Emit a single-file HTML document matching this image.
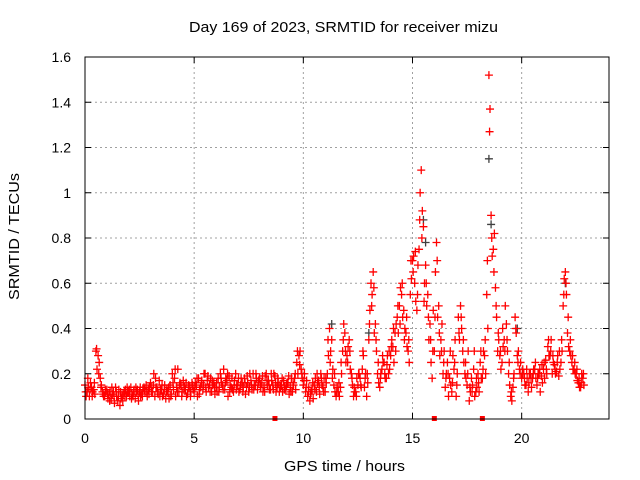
<!DOCTYPE html>
<html><head><meta charset="utf-8"><style>
body{margin:0;background:#fff}
svg{display:block;font-family:"Liberation Sans",sans-serif}
</style></head><body>
<svg id="chart" width="640" height="480">
<text x="189" y="32" font-size="15" textLength="309" lengthAdjust="spacingAndGlyphs">Day 169 of 2023, SRMTID for receiver mizu</text>
<text x="284" y="471" font-size="15" textLength="121" lengthAdjust="spacingAndGlyphs">GPS time / hours</text>
<text transform="translate(19,300) rotate(-90)" font-size="14.5" textLength="127" lengthAdjust="spacingAndGlyphs">SRMTID / TECUs</text>
<g id="grid"></g><g id="marks"></g>
<rect x="85" y="57" width="524" height="362" fill="none" stroke="#000" stroke-width="1"/>
</svg>
<script>
const xTicks=[0,5,10,15,20];
const yTicks=[0,0.2,0.4,0.6,0.8,1,1.2,1.4,1.6];
const yTickLabels=["0","0.2","0.4","0.6","0.8","1","1.2","1.4","1.6"];
const seriesA=[0.15,0.12,0.1,0.14,0.13,0.3,0.28,0.18,0.12,0.1,
0.13,0.11,0.09,0.12,0.14,0.08,0.06,0.1,0.12,0.1,
0.12,0.14,0.1,0.09,0.13,0.12,0.11,0.14,0.15,0.13,
0.16,0.12,0.1,0.14,0.17,0.13,0.11,0.09,0.12,0.15,
0.2,0.18,0.14,0.12,0.15,0.17,0.13,0.11,0.14,0.16,
0.12,0.15,0.18,0.14,0.13,0.2,0.17,0.15,0.12,0.16,
0.14,0.18,0.2,0.15,0.13,0.17,0.19,0.14,0.12,0.2,
0.15,0.13,0.16,0.18,0.14,0.12,0.17,0.2,0.15,0.13,
0.18,0.16,0.14,0.2,0.17,0.13,0.15,0.19,0.14,0.12,
0.15,0.17,0.13,0.16,0.14,0.12,0.18,0.25,0.28,0.22,
0.15,0.12,0.1,0.08,0.13,0.15,0.12,0.17,0.2,0.14,
0.12,0.2,0.4,0.35,0.15,0.1,0.12,0.14,0.3,0.38,
0.28,0.35,0.2,0.1,0.12,0.15,0.18,0.22,0.14,0.1,
0.35,0.6,0.65,0.42,0.2,0.14,0.22,0.25,0.18,0.2,
0.28,0.32,0.38,0.45,0.5,0.55,0.48,0.38,0.3,0.55,
0.7,0.6,0.48,0.75,1.1,0.85,0.68,0.55,0.42,0.18,
0.3,0.78,0.5,0.35,0.2,0.14,0.25,0.18,0.12,0.22,
0.1,0.45,0.5,0.3,0.2,0.15,0.08,0.18,0.22,0.12,
0.2,0.25,0.18,0.28,0.55,1.52,0.9,0.75,0.58,0.3,
0.28,0.25,0.35,0.42,0.2,0.1,0.14,0.45,0.28,0.22,
0.18,0.2,0.15,0.12,0.2,0.18,0.22,0.15,0.2,0.19,
0.22,0.26,0.32,0.28,0.2,0.24,0.21,0.19,0.25,0.5,
0.65,0.38,0.3,0.25,0.22,0.2,0.16,0.14,0.18];
const seriesB=[0.1,0.14,0.16,0.12,0.11,0.22,0.25,0.15,0.1,0.12,
0.09,0.12,0.11,0.07,0.1,0.13,0.09,0.11,0.13,0.12,
0.1,0.11,0.13,0.12,0.08,0.1,0.13,0.12,0.1,0.14,
0.12,0.2,0.14,0.11,0.13,0.1,0.15,0.13,0.09,0.11,
0.13,0.1,0.22,0.16,0.12,0.14,0.1,0.15,0.12,0.13,
0.16,0.1,0.13,0.17,0.2,0.12,0.14,0.18,0.15,0.11,
0.12,0.14,0.16,0.22,0.18,0.1,0.15,0.13,0.17,0.15,
0.12,0.18,0.14,0.11,0.16,0.2,0.13,0.15,0.18,0.17,
0.14,0.12,0.19,0.15,0.13,0.17,0.2,0.12,0.16,0.14,
0.12,0.14,0.16,0.11,0.18,0.15,0.13,0.2,0.3,0.18,
0.2,0.17,0.14,0.12,0.09,0.18,0.16,0.11,0.15,0.18,
0.16,0.28,0.3,0.22,0.12,0.14,0.1,0.2,0.42,0.25,
0.32,0.22,0.15,0.12,0.18,0.2,0.14,0.28,0.2,0.16,
0.48,0.55,0.38,0.3,0.16,0.2,0.25,0.18,0.28,0.22,
0.35,0.25,0.42,0.38,0.58,0.45,0.4,0.32,0.25,0.62,
0.72,0.52,0.68,1.0,0.92,0.6,0.5,0.35,0.25,0.48,
0.65,0.45,0.28,0.42,0.3,0.2,0.1,0.15,0.28,0.35,
0.2,0.35,0.4,0.25,0.18,0.3,0.12,0.15,0.1,0.14,
0.12,0.18,0.3,0.2,0.4,1.37,0.72,0.82,0.45,0.35,
0.22,0.32,0.5,0.3,0.15,0.08,0.2,0.38,0.3,0.25,
0.22,0.15,0.18,0.2,0.14,0.22,0.18,0.2,0.12,0.16,
0.18,0.2,0.28,0.35,0.25,0.2,0.28,0.22,0.3,0.62,
0.55,0.32,0.28,0.22,0.2,0.17,0.14,0.2,0.15];
const seriesC=[0.12,0.18,0.13,0.1,0.16,0.31,0.2,0.14,0.11,0.13,
0.11,0.08,0.14,0.1,0.12,0.1,0.12,0.08,0.1,0.14,
0.13,0.09,0.12,0.14,0.11,0.14,0.1,0.13,0.12,0.11,
0.14,0.15,0.18,0.12,0.1,0.15,0.13,0.12,0.14,0.1,
0.16,0.22,0.12,0.15,0.1,0.13,0.16,0.14,0.1,0.15,
0.14,0.18,0.11,0.16,0.15,0.14,0.19,0.12,0.17,0.14,
0.16,0.12,0.18,0.13,0.16,0.2,0.12,0.18,0.15,0.13,
0.18,0.15,0.12,0.16,0.19,0.14,0.15,0.13,0.2,0.16,
0.15,0.19,0.12,0.17,0.15,0.2,0.13,0.16,0.18,0.15,
0.18,0.13,0.15,0.19,0.12,0.16,0.2,0.3,0.24,0.2,
0.17,0.14,0.12,0.11,0.16,0.13,0.2,0.14,0.18,0.12,
0.18,0.35,0.25,0.18,0.2,0.12,0.16,0.25,0.35,0.3,
0.25,0.3,0.18,0.14,0.1,0.2,0.15,0.3,0.18,0.2,
0.42,0.5,0.58,0.35,0.25,0.18,0.28,0.2,0.24,0.3,
0.32,0.4,0.3,0.5,0.42,0.6,0.35,0.45,0.35,0.7,
0.65,0.74,0.55,0.88,0.8,0.52,0.6,0.45,0.35,0.3,
0.45,0.7,0.38,0.3,0.25,0.18,0.2,0.3,0.16,0.25,
0.15,0.38,0.45,0.35,0.25,0.2,0.14,0.12,0.3,0.18,
0.16,0.3,0.22,0.35,0.7,1.27,0.8,0.65,0.5,0.38,
0.3,0.4,0.3,0.35,0.25,0.12,0.18,0.4,0.25,0.2,
0.2,0.18,0.22,0.16,0.18,0.2,0.25,0.18,0.22,0.24,
0.25,0.22,0.35,0.3,0.28,0.22,0.25,0.3,0.35,0.55,
0.6,0.45,0.35,0.28,0.25,0.22,0.18,0.16,0.2];
const grayTimes=[11.3,13.0,15.5,15.6,18.5,18.6,19.8,22.0];
const grayValues=[0.42,0.38,0.88,0.78,1.15,0.86,0.4,0.6];
const zeroTimes=[8.7,16.0,18.2];
const NS="http://www.w3.org/2000/svg";
const X=t=>85+t*(524/24), Y=v=>419-v*(362/1.6);
const grid=document.getElementById('grid'), marks=document.getElementById('marks');
function mk(tag,attrs,parent){const e=document.createElementNS(NS,tag);for(const k in attrs)e.setAttribute(k,attrs[k]);parent.appendChild(e);return e;}
xTicks.forEach(t=>{
 if(t>0){const g=mk('line',{x1:X(t),x2:X(t),y1:57,y2:419,stroke:'#a0a0a0','stroke-dasharray':'2,3'},grid);
 
 }
 const tk=mk('path',{d:`M${X(t)},419v-6M${X(t)},57v6`,stroke:'#000'},grid);
 
 
 const l=mk('text',{x:X(t),y:443,'font-size':14,'text-anchor':'middle'},grid);l.textContent=t;
 
 
});
yTicks.forEach((v,i)=>{
 if(v>0&&v<1.6){const g=mk('line',{x1:85,x2:609,y1:Y(v),y2:Y(v),stroke:'#a0a0a0','stroke-dasharray':'2,3'},grid);
 
 }
 const tk=mk('path',{d:`M85,${Y(v)}h6M609,${Y(v)}h-6`,stroke:'#000'},grid);
 
 
 const l=mk('text',{x:71,y:Y(v)+5,'font-size':14,'text-anchor':'end'},grid);l.textContent=yTickLabels[i];
 
 
});
function plus(t,v,color){
 const x=X(t),y=Y(v);
 const p=mk('path',{d:`M${x-4},${y}h8M${x},${y-4}v8`,stroke:color,'stroke-width':1.3},marks);
 
 
}
grayTimes.forEach((t,i)=>plus(t,grayValues[i],'#404040'));
seriesA.forEach((v,i)=>plus(i*0.1,v,'#ff0000'));
seriesB.forEach((v,i)=>plus(i*0.1+0.05,v,'#ff0000'));
seriesC.forEach((v,i)=>plus(i*0.1+0.03,v,'#ff0000'));
zeroTimes.forEach(t=>{
 const r=mk('rect',{x:X(t)-2.5,y:416,width:5,height:5,fill:'#ff0000'},marks);
 
 
});
</script>
</body></html>
